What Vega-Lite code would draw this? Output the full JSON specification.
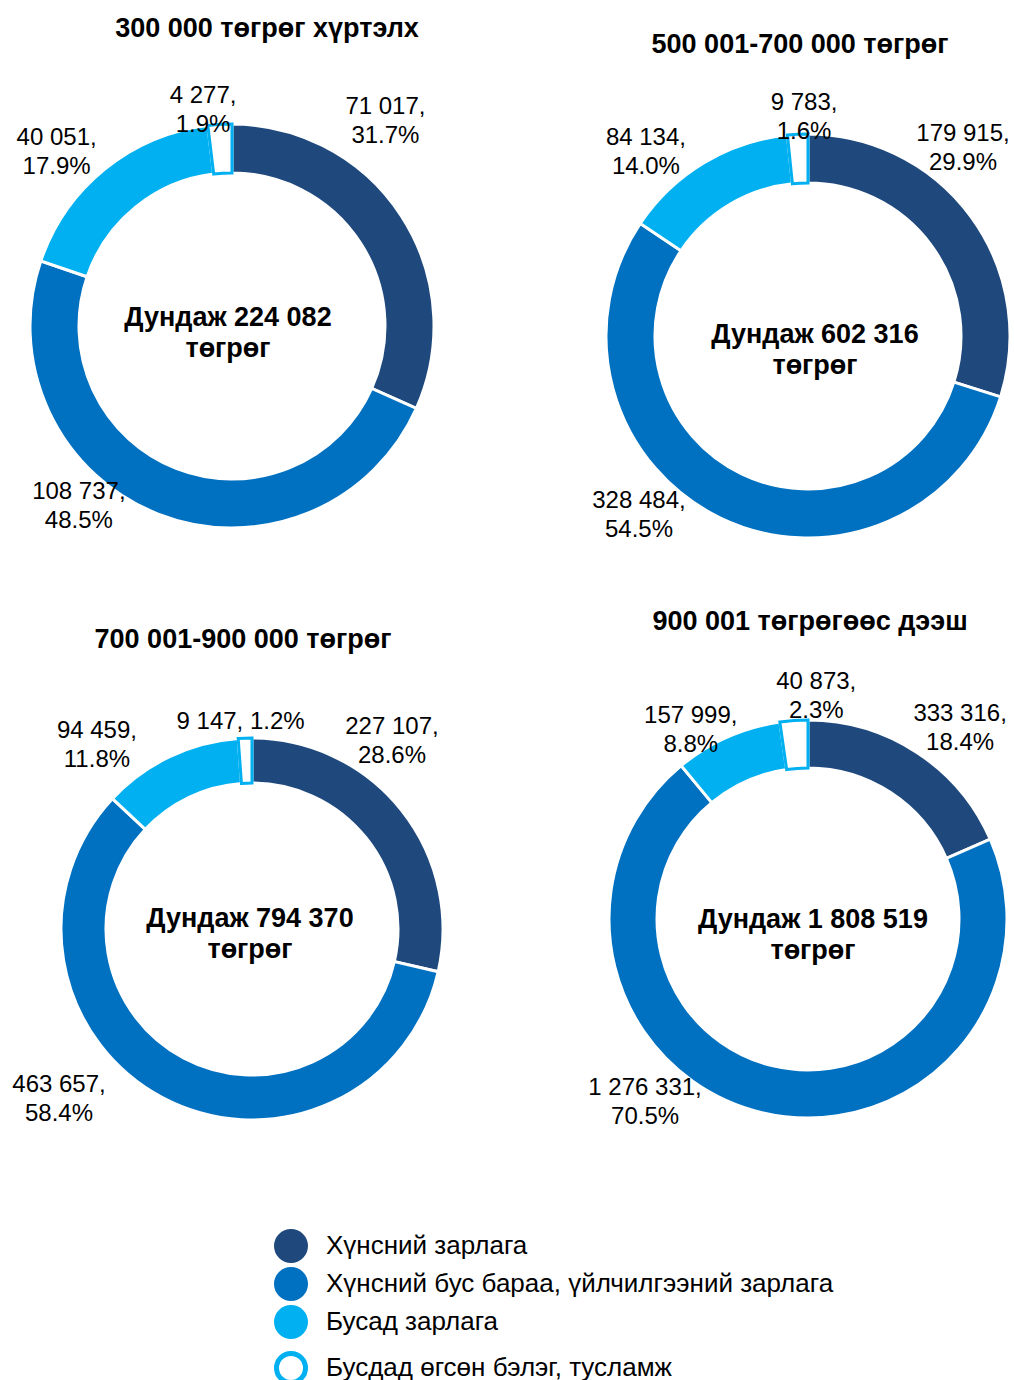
{
  "$schema": "https://vega.github.io/schema/vega-lite/v6.json",
  "padding": {"left": 0, "top": 14, "right": 0, "bottom": 0},
  "background": "white",
  "datasets": {
    "d": [
      {"g": 1, "k": 1, "cat": "Хүнсний зарлага", "value": 71017, "label": "71 017,\n31.7%"},
      {"g": 1, "k": 2, "cat": "Хүнсний бус бараа, үйлчилгээний зарлага", "value": 108737, "label": "108 737,\n48.5%"},
      {"g": 1, "k": 3, "cat": "Бусад зарлага", "value": 40051, "label": "40 051,\n17.9%"},
      {"g": 1, "k": 4, "cat": "Бусдад өгсөн бэлэг, тусламж", "value": 4277, "label": "4 277,\n1.9%"},
      {"g": 2, "k": 1, "cat": "Хүнсний зарлага", "value": 179915, "label": "179 915,\n29.9%"},
      {"g": 2, "k": 2, "cat": "Хүнсний бус бараа, үйлчилгээний зарлага", "value": 328484, "label": "328 484,\n54.5%"},
      {"g": 2, "k": 3, "cat": "Бусад зарлага", "value": 84134, "label": "84 134,\n14.0%"},
      {"g": 2, "k": 4, "cat": "Бусдад өгсөн бэлэг, тусламж", "value": 9783, "label": "9 783,\n1.6%"},
      {"g": 3, "k": 1, "cat": "Хүнсний зарлага", "value": 227107, "label": "227 107,\n28.6%"},
      {"g": 3, "k": 2, "cat": "Хүнсний бус бараа, үйлчилгээний зарлага", "value": 463657, "label": "463 657,\n58.4%"},
      {"g": 3, "k": 3, "cat": "Бусад зарлага", "value": 94459, "label": "94 459,\n11.8%"},
      {"g": 3, "k": 4, "cat": "Бусдад өгсөн бэлэг, тусламж", "value": 9147, "label": "9 147, 1.2%"},
      {"g": 4, "k": 1, "cat": "Хүнсний зарлага", "value": 333316, "label": "333 316,\n18.4%"},
      {"g": 4, "k": 2, "cat": "Хүнсний бус бараа, үйлчилгээний зарлага", "value": 1276331, "label": "1 276 331,\n70.5%"},
      {"g": 4, "k": 3, "cat": "Бусад зарлага", "value": 157999, "label": "157 999,\n8.8%"},
      {"g": 4, "k": 4, "cat": "Бусдад өгсөн бэлэг, тусламж", "value": 40873, "label": "40 873,\n2.3%"}
    ],
    "c": [
      {"g": 1, "t": "Дундаж 224 082\nтөгрөг"},
      {"g": 2, "t": "Дундаж 602 316\nтөгрөг"},
      {"g": 3, "t": "Дундаж 794 370\nтөгрөг"},
      {"g": 4, "t": "Дундаж 1 808 519\nтөгрөг"}
    ]
  },
  "spacing": 52,
  "vconcat": [
    {
      "bounds": "flush",
      "spacing": 144,
      "hconcat": [
        {
          "width": 464, "height": 420,
          "title": {"text": "300 000 төгрөг хүртэлх", "offset": 41, "dx": 35},
          "data": {"name": "d"},
          "transform": [
            {"filter": "datum.g == 1"},
            {"stack": "value", "groupby": ["g"], "sort": [{"field": "k", "order": "ascending"}], "as": ["v0", "v1"]},
            {"calculate": "(datum.v0 + datum.v1) / 2", "as": "mid"}
          ],
          "layer": [
            {"mark": {"type": "arc", "outerRadius": 202, "innerRadius": 153, "strokeWidth": 3},
             "encoding": {
               "theta": {"field": "v0", "type": "quantitative", "scale": {"nice": false, "domain": [0, 224082]}},
               "theta2": {"field": "v1"},
               "color": {"field": "cat", "type": "nominal", "scale": {"domain": ["Хүнсний зарлага", "Хүнсний бус бараа, үйлчилгээний зарлага", "Бусад зарлага", "Бусдад өгсөн бэлэг, тусламж"], "range": ["#1F497D", "#0070C0", "#00B0F0", "#FFFFFF"]}, "legend": {"orient": "none", "legendX": 278, "legendY": 1117, "title": null, "symbolType": "circle", "symbolSize": 1156, "symbolStrokeWidth": 0, "labelFontSize": 26, "labelFont": "Liberation Sans", "labelColor": "#000000", "rowPadding": 4, "labelOffset": 22, "labelLimit": 800, "padding": 0, "encode": {"symbols": {"update": {"stroke": {"value": "#00B0F0"}, "strokeWidth": {"signal": "datum.value === 'Бусдад өгсөн бэлэг, тусламж' ? 5 : 0"}, "size": {"signal": "datum.value === 'Бусдад өгсөн бэлэг, тусламж' ? 841 : 1156"}}}}}},
               "stroke": {"field": "cat", "type": "nominal", "scale": {"domain": ["Хүнсний зарлага", "Хүнсний бус бараа, үйлчилгээний зарлага", "Бусад зарлага", "Бусдад өгсөн бэлэг, тусламж"], "range": ["#FFFFFF", "#FFFFFF", "#FFFFFF", "#00B0F0"]}, "legend": null}
             }},
            {"transform": [{"filter": "datum.k == 1"}], "mark": {"type": "text", "radius": 256, "thetaOffset": -0.353, "dy": -14}, "encoding": {"theta": {"field": "mid", "type": "quantitative"}, "text": {"field": "label"}}},
            {"transform": [{"filter": "datum.k == 2"}], "mark": {"type": "text", "radius": 236, "thetaOffset": 0.332, "dy": -14}, "encoding": {"theta": {"field": "mid", "type": "quantitative"}, "text": {"field": "label"}}},
            {"transform": [{"filter": "datum.k == 3"}], "mark": {"type": "text", "radius": 247, "thetaOffset": -0.108, "dy": -14}, "encoding": {"theta": {"field": "mid", "type": "quantitative"}, "text": {"field": "label"}}},
            {"transform": [{"filter": "datum.k == 4"}], "mark": {"type": "text", "radius": 218, "thetaOffset": -0.073, "dy": -14}, "encoding": {"theta": {"field": "mid", "type": "quantitative"}, "text": {"field": "label"}}},
            {"data": {"name": "c"}, "transform": [{"filter": "datum.g == 1"}], "mark": {"type": "text", "fontWeight": "bold", "fontSize": 27, "lineHeight": 31, "dy": -8, "dx": -4}, "encoding": {"text": {"field": "t"}}}
          ]
        },
        {
          "width": 400, "height": 440,
          "title": {"text": "500 001-700 000 төгрөг", "offset": 32, "dx": -8},
          "data": {"name": "d"},
          "transform": [
            {"filter": "datum.g == 2"},
            {"stack": "value", "groupby": ["g"], "sort": [{"field": "k", "order": "ascending"}], "as": ["v0", "v1"]},
            {"calculate": "(datum.v0 + datum.v1) / 2", "as": "mid"}
          ],
          "layer": [
            {"mark": {"type": "arc", "outerRadius": 202, "innerRadius": 153, "strokeWidth": 3},
             "encoding": {
               "theta": {"field": "v0", "type": "quantitative", "scale": {"nice": false, "domain": [0, 602316]}},
               "theta2": {"field": "v1"},
               "color": {"field": "cat", "type": "nominal", "scale": {"domain": ["Хүнсний зарлага", "Хүнсний бус бараа, үйлчилгээний зарлага", "Бусад зарлага", "Бусдад өгсөн бэлэг, тусламж"], "range": ["#1F497D", "#0070C0", "#00B0F0", "#FFFFFF"]}},
               "stroke": {"field": "cat", "type": "nominal", "scale": {"domain": ["Хүнсний зарлага", "Хүнсний бус бараа, үйлчилгээний зарлага", "Бусад зарлага", "Бусдад өгсөн бэлэг, тусламж"], "range": ["#FFFFFF", "#FFFFFF", "#FFFFFF", "#00B0F0"]}, "legend": null}
             }},
            {"transform": [{"filter": "datum.k == 1"}], "mark": {"type": "text", "radius": 244, "thetaOffset": -0.25, "dy": -14}, "encoding": {"theta": {"field": "mid", "type": "quantitative"}, "text": {"field": "label"}}},
            {"transform": [{"filter": "datum.k == 2"}], "mark": {"type": "text", "radius": 246, "thetaOffset": 0.309, "dy": -14}, "encoding": {"theta": {"field": "mid", "type": "quantitative"}, "text": {"field": "label"}}},
            {"transform": [{"filter": "datum.k == 3"}], "mark": {"type": "text", "radius": 245, "thetaOffset": -0.182, "dy": -14}, "encoding": {"theta": {"field": "mid", "type": "quantitative"}, "text": {"field": "label"}}},
            {"transform": [{"filter": "datum.k == 4"}], "mark": {"type": "text", "radius": 219, "thetaOffset": 0.033, "dy": -14}, "encoding": {"theta": {"field": "mid", "type": "quantitative"}, "text": {"field": "label"}}},
            {"data": {"name": "c"}, "transform": [{"filter": "datum.g == 2"}], "mark": {"type": "text", "fontWeight": "bold", "fontSize": 27, "lineHeight": 31, "dy": -1, "dx": 7}, "encoding": {"text": {"field": "t"}}}
          ]
        }
      ]
    },
    {
      "bounds": "flush",
      "spacing": 104,
      "hconcat": [
        {
          "width": 504, "height": 420,
          "title": {"text": "700 001-900 000 төгрөг", "offset": 56, "dx": -9},
          "data": {"name": "d"},
          "transform": [
            {"filter": "datum.g == 3"},
            {"stack": "value", "groupby": ["g"], "sort": [{"field": "k", "order": "ascending"}], "as": ["v0", "v1"]},
            {"calculate": "(datum.v0 + datum.v1) / 2", "as": "mid"}
          ],
          "layer": [
            {"mark": {"type": "arc", "outerRadius": 191, "innerRadius": 146, "strokeWidth": 3},
             "encoding": {
               "theta": {"field": "v0", "type": "quantitative", "scale": {"nice": false, "domain": [0, 794370]}},
               "theta2": {"field": "v1"},
               "color": {"field": "cat", "type": "nominal", "scale": {"domain": ["Хүнсний зарлага", "Хүнсний бус бараа, үйлчилгээний зарлага", "Бусад зарлага", "Бусдад өгсөн бэлэг, тусламж"], "range": ["#1F497D", "#0070C0", "#00B0F0", "#FFFFFF"]}},
               "stroke": {"field": "cat", "type": "nominal", "scale": {"domain": ["Хүнсний зарлага", "Хүнсний бус бараа, үйлчилгээний зарлага", "Бусад зарлага", "Бусдад өгсөн бэлэг, тусламж"], "range": ["#FFFFFF", "#FFFFFF", "#FFFFFF", "#00B0F0"]}, "legend": null}
             }},
            {"transform": [{"filter": "datum.k == 1"}], "mark": {"type": "text", "radius": 234, "thetaOffset": -0.257, "dy": -14}, "encoding": {"theta": {"field": "mid", "type": "quantitative"}, "text": {"field": "label"}}},
            {"transform": [{"filter": "datum.k == 2"}], "mark": {"type": "text", "radius": 257, "thetaOffset": 0.361, "dy": -14}, "encoding": {"theta": {"field": "mid", "type": "quantitative"}, "text": {"field": "label"}}},
            {"transform": [{"filter": "datum.k == 3"}], "mark": {"type": "text", "radius": 241, "thetaOffset": -0.253, "dy": -14}, "encoding": {"theta": {"field": "mid", "type": "quantitative"}, "text": {"field": "label"}}},
            {"transform": [{"filter": "datum.k == 4"}], "mark": {"type": "text", "radius": 207, "thetaOffset": -0.019}, "encoding": {"theta": {"field": "mid", "type": "quantitative"}, "text": {"field": "label"}}},
            {"data": {"name": "c"}, "transform": [{"filter": "datum.g == 3"}], "mark": {"type": "text", "fontWeight": "bold", "fontSize": 27, "lineHeight": 31, "dy": -10, "dx": -2}, "encoding": {"text": {"field": "t"}}}
          ]
        },
        {
          "width": 400, "height": 400,
          "title": {"text": "900 001 төгрөгөөс дээш", "offset": 34, "dx": 2},
          "data": {"name": "d"},
          "transform": [
            {"filter": "datum.g == 4"},
            {"stack": "value", "groupby": ["g"], "sort": [{"field": "k", "order": "ascending"}], "as": ["v0", "v1"]},
            {"calculate": "(datum.v0 + datum.v1) / 2", "as": "mid"}
          ],
          "layer": [
            {"mark": {"type": "arc", "outerRadius": 199, "innerRadius": 151, "strokeWidth": 3},
             "encoding": {
               "theta": {"field": "v0", "type": "quantitative", "scale": {"nice": false, "domain": [0, 1808519]}},
               "theta2": {"field": "v1"},
               "color": {"field": "cat", "type": "nominal", "scale": {"domain": ["Хүнсний зарлага", "Хүнсний бус бараа, үйлчилгээний зарлага", "Бусад зарлага", "Бусдад өгсөн бэлэг, тусламж"], "range": ["#1F497D", "#0070C0", "#00B0F0", "#FFFFFF"]}},
               "stroke": {"field": "cat", "type": "nominal", "scale": {"domain": ["Хүнсний зарлага", "Хүнсний бус бараа, үйлчилгээний зарлага", "Бусад зарлага", "Бусдад өгсөн бэлэг, тусламж"], "range": ["#FFFFFF", "#FFFFFF", "#FFFFFF", "#00B0F0"]}, "legend": null}
             }},
            {"transform": [{"filter": "datum.k == 1"}], "mark": {"type": "text", "radius": 244, "thetaOffset": 0.094, "dy": -14}, "encoding": {"theta": {"field": "mid", "type": "quantitative"}, "text": {"field": "label"}}},
            {"transform": [{"filter": "datum.k == 2"}], "mark": {"type": "text", "radius": 245, "thetaOffset": 0.494, "dy": -14}, "encoding": {"theta": {"field": "mid", "type": "quantitative"}, "text": {"field": "label"}}},
            {"transform": [{"filter": "datum.k == 3"}], "mark": {"type": "text", "radius": 222, "thetaOffset": -0.14, "dy": -14}, "encoding": {"theta": {"field": "mid", "type": "quantitative"}, "text": {"field": "label"}}},
            {"transform": [{"filter": "datum.k == 4"}], "mark": {"type": "text", "radius": 223, "thetaOffset": 0.108, "dy": -14}, "encoding": {"theta": {"field": "mid", "type": "quantitative"}, "text": {"field": "label"}}},
            {"data": {"name": "c"}, "transform": [{"filter": "datum.g == 4"}], "mark": {"type": "text", "fontWeight": "bold", "fontSize": 27, "lineHeight": 31, "dy": 1, "dx": 5}, "encoding": {"text": {"field": "t"}}}
          ]
        }
      ]
    }
  ],
  "config": {
    "view": {"stroke": null},
    "font": "Liberation Sans",
    "title": {"font": "Liberation Sans", "fontSize": 27, "fontWeight": "bold", "color": "#000000", "anchor": "middle"},
    "text": {"font": "Liberation Sans", "fontSize": 24, "lineBreak": "\n", "lineHeight": 29, "align": "center", "baseline": "middle", "color": "#000000"}
  }
}
